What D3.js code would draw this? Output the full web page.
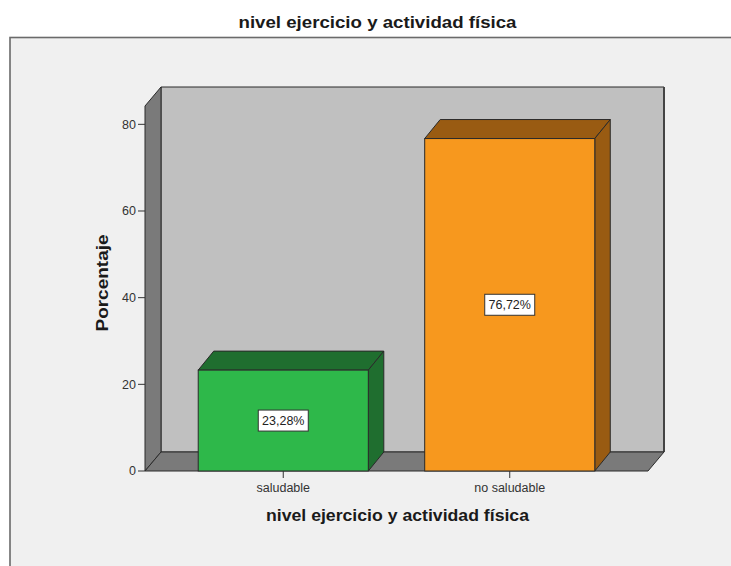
<!DOCTYPE html>
<html>
<head>
<meta charset="utf-8">
<script src="https://cdn.jsdelivr.net/npm/d3@7"></script>
<style>
  html, body { margin: 0; padding: 0; background: #ffffff; }
  svg { display: block; font-family: "Liberation Sans", Arial, sans-serif; }
</style>
</head>
<body>
<svg id="chart" width="731" height="566"></svg>
<script>
// Data
const categories = ["saludable", "no saludable"];
const percentages = [23.28, 76.72];
const valueLabels = ["23,28%", "76,72%"];
const yTicks = [0, 20, 40, 60, 80];
const frontColors = ["#2eb84a", "#f7981e"];
const depthColors = ["#1f6e2f", "#995b12"];

(function () {
const svg = d3.select("#chart");
const W = 731, H = 566;

// Front plane of the 3D box and its depth offset
const plotLeft = 145, plotRight = 648, plotBottom = 471, plotTop = 106;
const dx = 16, dy = -19;

const x = d3.scaleBand()
  .domain(categories)
  .range([plotLeft, plotRight])
  .paddingInner(0.249)
  .paddingOuter(0.235);

const y = d3.scaleLinear()
  .domain([0, 84.23])
  .range([plotBottom, plotTop]);

// Outer frame
svg.append("rect")
  .attr("x", 10).attr("y", 37.5)
  .attr("width", W + 20).attr("height", H)
  .attr("fill", "#f0f0f0")
  .attr("stroke", "#6a6a6a")
  .attr("stroke-width", 1.6);

// Title
svg.append("text")
  .attr("x", 377.5).attr("y", 28)
  .attr("text-anchor", "middle")
  .attr("font-size", 16.5).attr("font-weight", "bold")
  .attr("fill", "#1a1a1a")
  .attr("textLength", 278).attr("lengthAdjust", "spacingAndGlyphs")
  .text("nivel ejercicio y actividad física");

const stroke = "#2a2a2a";
const line = d3.line();

// Back wall
svg.append("path")
  .attr("d", line([[plotLeft + dx, plotBottom + dy], [plotLeft + dx, plotTop + dy], [plotRight + dx, plotTop + dy], [plotRight + dx, plotBottom + dy]]) + "Z")
  .attr("fill", "#c0c0c0").attr("stroke", stroke).attr("stroke-width", 1);
// Right edge of back wall (heavier)
svg.append("line")
  .attr("x1", plotRight + dx).attr("x2", plotRight + dx)
  .attr("y1", plotTop + dy).attr("y2", plotBottom + dy)
  .attr("stroke", "#444").attr("stroke-width", 2);

// Left side wall
svg.append("path")
  .attr("d", line([[plotLeft, plotBottom], [plotLeft, plotTop], [plotLeft + dx, plotTop + dy], [plotLeft + dx, plotBottom + dy]]) + "Z")
  .attr("fill", "#7a7a7a").attr("stroke", stroke).attr("stroke-width", 1);

// Floor
svg.append("path")
  .attr("d", line([[plotLeft, plotBottom], [plotRight, plotBottom], [plotRight + dx, plotBottom + dy], [plotLeft + dx, plotBottom + dy]]) + "Z")
  .attr("fill", "#7a7a7a").attr("stroke", stroke).attr("stroke-width", 1);

// Y axis ticks on the front plane
const yAxis = svg.append("g").attr("class", "y-axis");
yTicks.forEach(t => {
  yAxis.append("line")
    .attr("x1", plotLeft - 7).attr("x2", plotLeft)
    .attr("y1", y(t)).attr("y2", y(t))
    .attr("stroke", "#333").attr("stroke-width", 1);
  yAxis.append("text")
    .attr("x", plotLeft - 9).attr("y", y(t))
    .attr("dy", "0.35em")
    .attr("text-anchor", "end")
    .attr("font-size", 12.5).attr("fill", "#333")
    .text(t);
});

// Bars
const bdx = 15.5, bdy = -19;
const bars = svg.append("g").selectAll("g.bar")
  .data(categories.map((c, i) => ({ c, v: percentages[i], label: valueLabels[i], i })))
  .join("g").attr("class", "bar");

bars.each(function (d) {
  const g = d3.select(this);
  const x0 = x(d.c), x1 = x(d.c) + x.bandwidth();
  const y0 = y(0), y1 = y(d.v);
  // top face
  g.append("path")
    .attr("d", line([[x0, y1], [x0 + bdx, y1 + bdy], [x1 + bdx, y1 + bdy], [x1, y1]]) + "Z")
    .attr("fill", depthColors[d.i]).attr("stroke", stroke).attr("stroke-width", 1);
  // side face
  g.append("path")
    .attr("d", line([[x1, y1], [x1 + bdx, y1 + bdy], [x1 + bdx, y0 + bdy], [x1, y0]]) + "Z")
    .attr("fill", depthColors[d.i]).attr("stroke", stroke).attr("stroke-width", 1);
  // front face
  g.append("rect")
    .attr("x", x0).attr("y", y1)
    .attr("width", x1 - x0).attr("height", y0 - y1)
    .attr("fill", frontColors[d.i]).attr("stroke", stroke).attr("stroke-width", 1);

  // value label in a white box
  const cx = (x0 + x1) / 2, cy = (y0 + y1) / 2;
  g.append("rect")
    .attr("x", cx - 25).attr("y", cy - 10.5)
    .attr("width", 50).attr("height", 21)
    .attr("fill", "#ffffff").attr("stroke", "#333").attr("stroke-width", 1);
  g.append("text")
    .attr("x", cx).attr("y", cy).attr("dy", "0.36em")
    .attr("text-anchor", "middle")
    .attr("font-size", 12.5).attr("fill", "#222")
    .text(d.label);
});

// X axis ticks and labels
const xAxis = svg.append("g").attr("class", "x-axis");
categories.forEach(c => {
  const cx = x(c) + x.bandwidth() / 2;
  xAxis.append("line")
    .attr("x1", cx).attr("x2", cx)
    .attr("y1", plotBottom).attr("y2", plotBottom + 7)
    .attr("stroke", "#333").attr("stroke-width", 1);
  xAxis.append("text")
    .attr("x", cx).attr("y", 492)
    .attr("text-anchor", "middle")
    .attr("font-size", 12.5).attr("fill", "#333")
    .text(c);
});

// Axis titles
svg.append("text")
  .attr("x", 397.5).attr("y", 521)
  .attr("text-anchor", "middle")
  .attr("font-size", 16).attr("font-weight", "bold")
  .attr("fill", "#1a1a1a")
  .attr("textLength", 263).attr("lengthAdjust", "spacingAndGlyphs")
  .text("nivel ejercicio y actividad física");

svg.append("text")
  .attr("transform", "translate(108,283) rotate(-90)")
  .attr("text-anchor", "middle")
  .attr("font-size", 16).attr("font-weight", "bold")
  .attr("fill", "#1a1a1a")
  .attr("textLength", 97).attr("lengthAdjust", "spacingAndGlyphs")
  .text("Porcentaje");
})();
</script>
</body>
</html>
